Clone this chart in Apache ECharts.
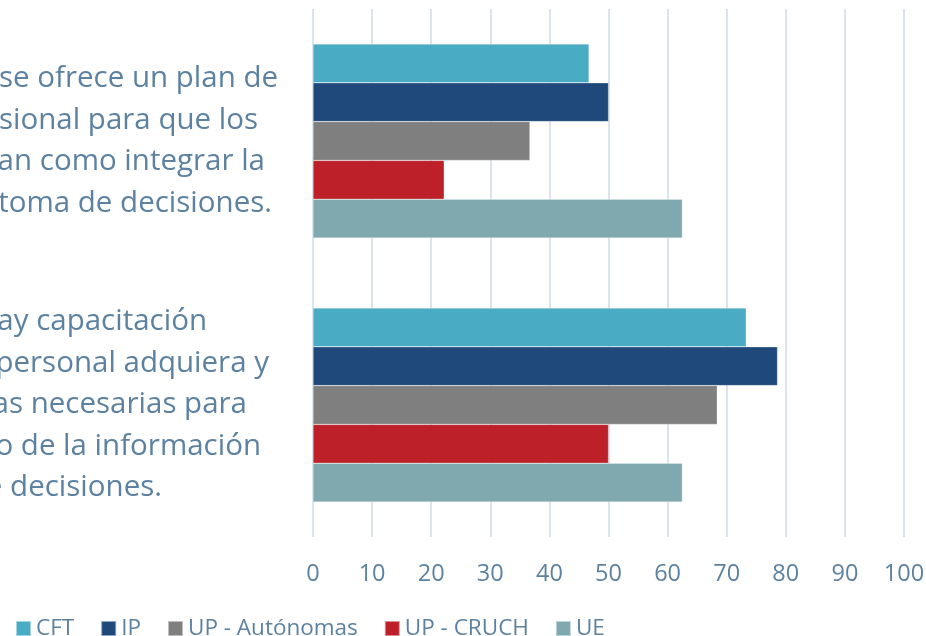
<!DOCTYPE html>
<html lang="es">
<head>
    <meta charset="UTF-8">
    <title>Capacitación y uso de la información</title>
    <style>
        html, body { margin: 0; padding: 0; background: #fff; }
        #main { width: 926px; height: 636px; }
    </style>
</head>
<body>
<div id="main"></div>
<script src="https://cdn.jsdelivr.net/npm/echarts@6/dist/echarts.min.js"></script>
<script>
    // categorías (de arriba hacia abajo)
    const categories = [
        '¿En su institución se ofrece un plan de\ndesarrollo profesional para que los\ndirectivos sepan como integrar la\ninformación en la toma de decisiones.',
        '¿En su institución hay capacitación\nsuficiente para que el personal adquiera y\ndesarrolle las herramientas necesarias para\nel uso de la información\nde la toma de decisiones.'
    ];
    // valores por serie (%)
    const cft = [46.7, 73.3];
    const ip = [50.0, 78.6];
    const upAutonomas = [36.7, 68.4];
    const upCruch = [22.2, 50.0];
    const ue = [62.5, 62.5];
    const seriesNames = ['CFT', 'IP', 'UP - Autónomas', 'UP - CRUCH', 'UE'];
    const seriesValues = [cft, ip, upAutonomas, upCruch, ue];
    const colors = ['#4aabc5', '#1f497b', '#7f7f7f', '#be2029', '#7fa9ae'];
    const xTicks = [0, 10, 20, 30, 40, 50, 60, 70, 80, 90, 100];

    const textColor = '#5d82a1';
    const font = 'Open Sans';

    // borde derecho de cada línea de las etiquetas (texto centrado como en Excel)
    const labelRight = 278;
    const lineEnds = [[278, 258, 265, 272], [207, 269, 247, 261, 162]];
    const rich = {};
    lineEnds.forEach((ends, c) => {
        ends.forEach((e, i) => {
            rich['l' + c + '_' + i] = {
                fontFamily: font,
                fontSize: 29.5,
                lineHeight: 41.5,
                color: textColor,
                padding: [0, labelRight - e, 0, 0]
            };
        });
    });

    const myChart = echarts.init(document.getElementById('main'));

    const option = {
        animation: false,
        color: colors,
        grid: { left: 313, right: 22, top: 9, bottom: 99, containLabel: false, outerBoundsMode: 'none' },
        legend: {
            data: seriesNames,
            left: 10,
            top: 612,
            icon: 'rect',
            itemWidth: 15,
            itemHeight: 15,
            itemGap: 26,
            textStyle: { fontFamily: font, fontSize: 22.5, color: textColor }
        },
        xAxis: {
            type: 'value',
            min: xTicks[0],
            max: xTicks[xTicks.length - 1],
            interval: xTicks[1] - xTicks[0],
            axisLine: { show: false },
            axisTick: { show: false },
            axisLabel: { fontFamily: font, fontSize: 23.5, color: textColor, margin: 25 },
            splitLine: { lineStyle: { color: '#dce3ea', width: 2 } }
        },
        yAxis: {
            type: 'category',
            inverse: true,
            data: categories,
            axisLine: { show: false },
            axisTick: { show: false },
            axisLabel: {
                interval: 0,
                margin: 313 - labelRight,
                align: 'right',
                formatter: (value, idx) => value.split('\n')
                    .map((line, i) => '{l' + idx + '_' + i + '|' + line + '}').join('\n'),
                rich
            }
        },
        series: seriesNames.map((name, i) => ({
            name,
            type: 'bar',
            data: seriesValues[i],
            barGap: '0%',
            barCategoryGap: '26.5%',
            itemStyle: { color: colors[i], borderColor: 'rgba(255,255,255,0.5)', borderWidth: 0.5 }
        }))
    };

    myChart.setOption(option);
</script>
</body>
</html>
